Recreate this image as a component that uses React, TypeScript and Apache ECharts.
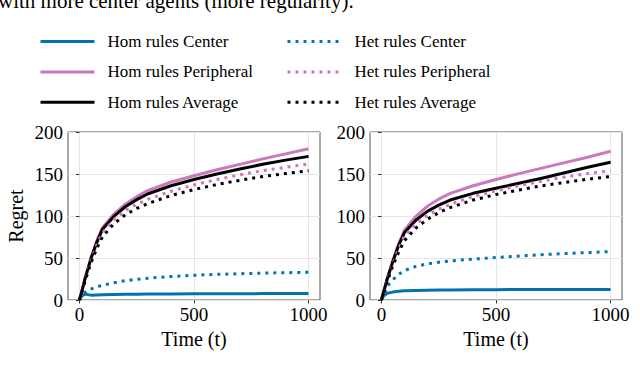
import React, { useEffect, useRef } from "react";
import * as echarts from "echarts";

// ---------- data ----------
const timeSteps = [0, 10, 25, 50, 75, 100, 150, 200, 250, 300, 400, 500, 600, 700, 800, 900, 1000];

const homNames = ["Hom rules Center", "Hom rules Peripheral", "Hom rules Average"];
const hetNames = ["Het rules Center", "Het rules Peripheral", "Het rules Average"];

// left panel
const leftHomCenter = [0, 5, 7, 5.8, 6, 6.2, 6.5, 6.7, 6.8, 7, 7.2, 7.3, 7.4, 7.5, 7.6, 7.7, 7.8];
const leftHomPeripheral = [0, 10, 26, 50, 70, 86, 102, 114, 123, 130.5, 140.5, 148, 155, 161.5, 168, 174, 180];
const leftHomAverage = [0, 10, 26, 49, 68, 84, 99.5, 111, 119.5, 126.5, 136, 143.5, 150, 156, 161.5, 166.5, 171];
const leftHetCenter = [0, 5, 9, 13, 15.5, 17.5, 20.5, 23, 24.7, 26, 28, 29.5, 30.5, 31.3, 32, 32.5, 33];
const leftHetPeripheral = [0, 9, 24, 46, 65, 80, 95.5, 106.5, 114, 120, 129.5, 137, 143.5, 149, 154, 158, 162];
const leftHetAverage = [0, 9, 23, 44, 61, 75, 90.5, 101.5, 109, 115, 124.5, 131.5, 137.5, 142.5, 147, 150.5, 154];

// right panel
const rightHomCenter = [0, 5, 8, 9.4, 10.4, 11, 11.4, 11.7, 11.9, 12, 12.2, 12.3, 12.4, 12.4, 12.5, 12.5, 12.5];
const rightHomPeripheral = [0, 10, 25, 47, 67, 83, 99.5, 111.5, 120, 127, 136, 143.5, 150.5, 157, 163.5, 170, 177];
const rightHomAverage = [0, 10, 25, 46, 65, 80, 95, 105.5, 113, 119, 127, 133, 139, 145, 151.5, 158, 164];
const rightHetCenter = [0, 6, 16.5, 24, 30.5, 35, 40, 43, 45, 46.5, 48.7, 50.5, 52.3, 54, 55.3, 56.5, 57.6];
const rightHetPeripheral = [0, 9, 23, 43, 61, 76, 90.5, 100.5, 108, 114, 123, 130, 136, 141.5, 146.5, 150.5, 154];
const rightHetAverage = [0, 9, 22, 41, 57, 70.5, 85.5, 96, 104, 110, 119, 125.5, 131, 136, 140, 143.8, 147];

const xTicks = [0, 500, 1000];

const topText = "with more center agents (more regularity).";

// ---------- styles ----------
const BLUE = "#0173B2";
const PINK = "#CC78BC";
const BLACK = "#000000";
const FONT = "Liberation Serif";

function pairs(values: number[]) {
  return timeSteps.map((t, i) => [t, values[i]]);
}

function mkSeries(name: string, values: number[], color: string, dotted: boolean, idx: number) {
  return {
    type: "line",
    name,
    xAxisIndex: idx,
    yAxisIndex: idx,
    data: pairs(values),
    showSymbol: false,
    symbol: "none",
    smooth: false,
    lineStyle: {
      color,
      width: 3,
      type: dotted ? [3, 5] : "solid",
      cap: "butt",
      join: "round",
    },
    itemStyle: { color },
    z: 3,
  };
}

function xAxisCfg(idx: number) {
  return {
    type: "value",
    gridIndex: idx,
    min: -50,
    max: 1050,
    name: "Time (t)",
    nameLocation: "middle",
    nameGap: 29,
    nameTextStyle: { fontFamily: FONT, fontSize: 20, color: "#000" },
    axisLine: { show: false },
    axisTick: { show: true, length: 3.5, customValues: xTicks, lineStyle: { color: "#333", width: 1 } },
    axisLabel: {
      customValues: xTicks,
      fontFamily: FONT,
      fontSize: 19,
      color: "#000",
      margin: 5,
      formatter: (v: number) => String(v),
    },
    splitLine: { show: true, lineStyle: { color: "#e6e6e6", width: 1 } },
  };
}

function yAxisCfg(idx: number, withName: boolean) {
  return {
    type: "value",
    gridIndex: idx,
    min: 0,
    max: 200,
    interval: 50,
    name: withName ? "Regret" : "",
    nameLocation: "middle",
    nameGap: 42,
    nameTextStyle: { fontFamily: FONT, fontSize: 20, color: "#000" },
    axisLine: { show: false },
    axisTick: { show: true, length: 3.5, lineStyle: { color: "#333", width: 1 } },
    axisLabel: { fontFamily: FONT, fontSize: 19, color: "#000", margin: 5, formatter: (v: number) => String(v) },
    splitLine: { show: true, lineStyle: { color: "#e6e6e6", width: 1 } },
  };
}

function legendCfg(names: string[], left: number) {
  return {
    data: names,
    orient: "vertical",
    left,
    top: 31.5,
    padding: 0,
    itemWidth: 54,
    itemHeight: 20,
    itemGap: 10.4,
    selectedMode: false,
    itemStyle: { opacity: 0, color: "transparent", borderWidth: 0 },
    lineStyle: { width: 3, cap: "butt" },
    textStyle: { fontFamily: FONT, fontSize: 17, color: "#000", lineHeight: 20, padding: [0, 0, 0, 8] },
  };
}

export default function App() {
  const ref = useRef<HTMLDivElement>(null);

  useEffect(() => {
    if (!ref.current) return;
    const chart = echarts.init(ref.current, null, { renderer: "svg" });
    const grids = [
      { left: 68, top: 132, width: 252, height: 168 },
      { left: 370, top: 132, width: 252, height: 168 },
    ].map((g) => ({ ...g, show: true, borderColor: "#555", borderWidth: 1, backgroundColor: "transparent", containLabel: false }));

    const series = [
      mkSeries(homNames[0], leftHomCenter, BLUE, false, 0),
      mkSeries(homNames[1], leftHomPeripheral, PINK, false, 0),
      mkSeries(homNames[2], leftHomAverage, BLACK, false, 0),
      mkSeries(hetNames[0], leftHetCenter, BLUE, true, 0),
      mkSeries(hetNames[1], leftHetPeripheral, PINK, true, 0),
      mkSeries(hetNames[2], leftHetAverage, BLACK, true, 0),
      mkSeries(homNames[0], rightHomCenter, BLUE, false, 1),
      mkSeries(homNames[1], rightHomPeripheral, PINK, false, 1),
      mkSeries(homNames[2], rightHomAverage, BLACK, false, 1),
      mkSeries(hetNames[0], rightHetCenter, BLUE, true, 1),
      mkSeries(hetNames[1], rightHetPeripheral, PINK, true, 1),
      mkSeries(hetNames[2], rightHetAverage, BLACK, true, 1),
    ];

    chart.setOption({
      animation: false,
      backgroundColor: "#ffffff",
      textStyle: { fontFamily: FONT },
      grid: grids,
      xAxis: [xAxisCfg(0), xAxisCfg(1)],
      yAxis: [yAxisCfg(0, true), yAxisCfg(1, false)],
      legend: [legendCfg(homNames, 39), legendCfg(hetNames, 286)],
      graphic: [
        {
          type: "text",
          left: -2,
          top: -10,
          style: { text: topText, fontFamily: FONT, fontSize: 21, fill: "#000" },
          silent: true,
        },
      ],
      series,
    });
    return () => chart.dispose();
  }, []);

  return (
    <div
      ref={ref}
      style={{ position: "fixed", left: 0, top: 0, width: 640, height: 379, background: "#fff" }}
    />
  );
}
